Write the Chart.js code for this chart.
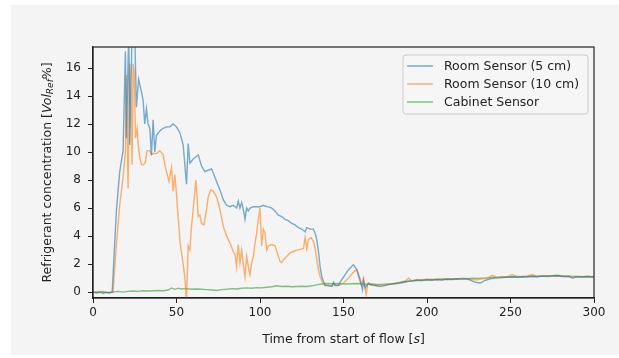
<!DOCTYPE html>
<html>
<head>
<meta charset="utf-8">
<script src="https://cdn.jsdelivr.net/npm/chart.js@4/dist/chart.umd.min.js"></script>
<style>
  html, body { margin: 0; padding: 0; background: #ffffff; }
  #wrap { width: 619px; height: 358px; }
</style>
</head>
<body>
<div id="wrap"><canvas id="chart" width="619" height="358"></canvas></div>
<script>
// values
const seriesLabels = ['Room Sensor (5 cm)', 'Room Sensor (10 cm)', 'Cabinet Sensor'];

const blueTime = [0,2,4,6,8,10,11.5,14,16,18,19.4,20,21.4,22,23.4,24,25,26,27.3,29,30,31,32,33,34,35,36,37,38,40,42,44,46,48,50,52,54,56,57,58,60,62,63,65,67,69,71,72,74,76,78,80,82,84,86,87,88,89,90,91,92,93,94,96,98,100,102,104,106,107,109,111,113,115,117,119,121,123,125,127,128,130,132,133,134,135,136,137,138,139,141,143,144,145,147,149,151,153,155,156,158,160,161.4,162,163,165,167,170,172,174,176,178,181,184,187,189,192,194,197,200,203,206,209,212,215,218,221,224,227,229,232,235,238,241,244,247,251,254,257,260,263,266,269,272,275,279,282,285,287,290,293,296,300];
const blueVals = [0.0,-0.05,0.05,-0.1,0.0,-0.05,0.0,5.8,8.6,10.1,17.2,11.0,18.5,10.5,18.5,17.8,18.5,13.2,15.2,14.3,13.7,12.0,13.1,12.0,11.7,9.8,12.3,10.0,11.2,11.5,11.7,11.8,11.8,12.0,11.8,11.4,10.5,7.7,10.6,9.2,9.5,9.7,9.8,9.0,8.6,8.7,8.8,8.5,7.9,7.3,6.6,6.2,6.1,6.2,6.0,6.5,6.0,6.4,5.9,5.2,6.0,5.8,6.0,6.1,6.1,6.1,6.2,6.1,6.05,6.0,5.8,5.5,5.4,5.2,5.1,4.9,4.8,4.6,4.5,4.3,4.6,4.5,4.5,4.2,3.75,2.9,1.8,1.1,0.77,0.5,0.45,0.4,0.7,0.45,0.5,0.9,1.25,1.6,1.85,1.95,1.6,0.9,0.17,0.8,0.3,0.65,0.5,0.45,0.4,0.45,0.5,0.55,0.6,0.65,0.72,0.77,0.8,0.85,0.82,0.88,0.85,0.9,0.87,0.92,0.9,0.95,0.93,0.95,0.8,0.7,0.65,0.85,0.95,1.0,1.02,1.05,1.08,1.05,1.1,1.08,1.12,1.1,1.15,1.12,1.15,1.17,1.12,1.1,1.0,1.1,1.08,1.12,1.08];

const orangeTime = [0,2,4,6,8,10,12,14,16,18,19.4,20,21,22,22.6,23.4,24,24.6,25.4,26.4,27,28,29,30.4,31.4,32.4,34,35,36,38,40,42,43,44,45.5,47,48,49,50,51,52.3,54,55,56,57,58,59,60,61.6,63,64,65,66.4,68,69,70.5,72,74,76,78,80,82,84,85,86,87,88,89,90,91,92,93,94,95,96,97,98,99,100,101,102,103,104,105,107,109,111,112,113,114,116,118,120,122,124,126,127,128,129,130.6,132,133,134,135,136,137.5,139,141,143,145,147,150,153,155,157,158,159,160.7,162,163.6,164.5,166,168,170,172,175,178,181,184,187,189,191,194,197,200,203,206,209,212,215,218,221,224,227,230,233,236,239,242,245,248,251,254,257,260,263,266,269,272,275,278,281,284,287,290,293,296,300];
const orangeVals = [0.0,0.05,-0.05,0.0,-0.05,0.0,0.0,3.4,6.2,8.2,10.1,15.5,7.4,16.3,14.1,9.1,16.3,15.8,11.0,11.7,10.6,9.6,9.1,9.1,9.3,10.1,10.1,9.8,9.9,9.9,10.1,9.8,9.1,8.6,7.9,8.9,7.2,8.4,7.0,5.3,3.4,2.0,1.0,-0.6,3.3,3.0,4.7,5.9,8.0,5.4,5.5,4.9,4.8,5.9,6.8,7.3,7.2,6.8,5.9,4.7,4.0,3.5,2.9,2.7,1.8,3.4,2.1,3.0,2.0,1.1,2.55,1.85,1.25,2.1,2.5,3.5,4.2,5.2,6.0,3.3,4.5,4.2,3.0,3.3,3.4,3.3,2.55,2.2,2.1,2.3,2.55,2.8,2.9,3.0,3.05,3.1,3.9,3.1,3.75,3.9,3.6,3.15,2.3,1.6,1.1,0.65,0.45,0.5,0.45,0.55,0.45,0.65,1.0,1.3,1.55,1.6,1.1,0.5,1.0,-0.2,0.6,0.5,0.55,0.45,0.5,0.5,0.6,0.62,0.7,0.8,1.0,0.8,0.9,0.85,0.9,0.92,0.88,0.95,0.9,0.95,0.92,0.98,0.95,0.9,0.88,0.95,1.0,1.2,1.05,1.1,1.08,1.25,1.1,1.12,1.15,1.25,1.12,1.15,1.18,1.15,1.15,1.12,1.15,1.1,1.12,1.1,1.12,1.08];

const greenTime = [0,3,6,9,12,15,18,21,24,27,30,33,36,39,42,45,47,49,51,53,56,59,62,65,68,71,74,77,80,83,86,89,92,95,98,101,104,107,110,113,116,119,122,125,128,131,134,137,140,143,146,149,152,155,158,161,164,167,170,173,176,179,182,185,188,191,194,197,200,203,206,209,212,215,218,221,224,227,230,233,236,239,242,245,248,251,254,257,260,263,266,269,272,275,278,281,284,287,290,293,296,300];
const greenVals = [0.0,-0.05,0.05,-0.05,0.0,0.05,0.0,0.05,0.08,0.05,0.1,0.08,0.1,0.12,0.1,0.15,0.3,0.2,0.28,0.22,0.25,0.2,0.22,0.2,0.18,0.15,0.12,0.18,0.2,0.25,0.22,0.28,0.3,0.28,0.32,0.3,0.35,0.38,0.45,0.4,0.42,0.38,0.4,0.42,0.4,0.45,0.52,0.58,0.62,0.6,0.62,0.6,0.58,0.6,0.62,0.6,0.55,0.58,0.55,0.55,0.58,0.6,0.65,0.72,0.78,0.82,0.85,0.88,0.9,0.88,0.92,0.9,0.95,0.92,0.95,0.98,0.96,1.0,0.98,1.0,1.02,1.05,1.05,1.08,1.1,1.1,1.12,1.1,1.12,1.15,1.12,1.15,1.15,1.18,1.2,1.15,1.15,1.12,1.12,1.1,1.12,1.1];

const xTicks = [0, 50, 100, 150, 200, 250, 300];
const yTicks = [0, 2, 4, 6, 8, 10, 12, 14, 16];

const FONT = "'DejaVu Sans', sans-serif";
const INK = '#222222';

function points(ts, vs) {
    return ts.map((t, i) => ({ x: t, y: vs[i] }));
}

// grey figure background with the thin white margin of the original
const backdrop = {
    id: 'backdrop',
    beforeDraw(chart) {
        const ctx = chart.ctx;
        ctx.save();
        ctx.fillStyle = '#ffffff';
        ctx.fillRect(0, 0, chart.width, chart.height);
        ctx.fillStyle = '#f4f4f4';
        ctx.fillRect(11, 5, chart.width - 11, 350);
        ctx.restore();
    }
};

// frame, axis titles and legend box in the matplotlib look
const decor = {
    id: 'decor',
    afterDraw(chart) {
        const ctx = chart.ctx;
        const a = chart.chartArea;
        ctx.save();
        ctx.strokeStyle = INK;
        ctx.lineWidth = 1.2;
        ctx.strokeRect(a.left, a.top, a.right - a.left, a.bottom - a.top);

        // x title
        ctx.fillStyle = INK;
        ctx.textBaseline = 'middle';
        let parts = [
            { t: 'Time from start of flow [', f: '12.5px ' + FONT },
            { t: 's', f: 'italic 12.5px ' + FONT },
            { t: ']', f: '12.5px ' + FONT }
        ];
        let w = 0;
        parts.forEach(p => { ctx.font = p.f; w += ctx.measureText(p.t).width; });
        let x = (a.left + a.right) / 2 - w / 2;
        parts.forEach(p => {
            ctx.font = p.f;
            ctx.textAlign = 'left';
            ctx.fillText(p.t, x, 340);
            x += ctx.measureText(p.t).width;
        });

        // y title, rotated, with subscript
        ctx.save();
        ctx.translate(48, (a.top + a.bottom) / 2);
        ctx.rotate(-Math.PI / 2);
        parts = [
            { t: 'Refrigerant concentration [', f: '12.5px ' + FONT, dy: 0 },
            { t: 'Vol', f: 'italic 12.5px ' + FONT, dy: 0 },
            { t: 'Ref', f: 'italic 9px ' + FONT, dy: 3 },
            { t: '%]', f: '12.5px ' + FONT, dy: 0 }
        ];
        w = 0;
        parts.forEach(p => { ctx.font = p.f; w += ctx.measureText(p.t).width; });
        x = -w / 2;
        parts.forEach(p => {
            ctx.font = p.f;
            ctx.textAlign = 'left';
            ctx.fillText(p.t, x, p.dy);
            x += ctx.measureText(p.t).width;
        });
        ctx.restore();

        // legend
        ctx.beginPath();
        ctx.roundRect(403, 55, 185, 59, 3);
        ctx.fillStyle = 'rgba(246,246,246,0.8)';
        ctx.fill();
        ctx.strokeStyle = '#cccccc';
        ctx.lineWidth = 1;
        ctx.stroke();
        chart.data.datasets.forEach((ds, i) => {
            const yy = 66 + i * 18;
            ctx.beginPath();
            ctx.moveTo(407, yy);
            ctx.lineTo(433, yy);
            ctx.strokeStyle = ds.borderColor;
            ctx.lineWidth = 1.5;
            ctx.stroke();
            ctx.fillStyle = INK;
            ctx.font = '12.5px ' + FONT;
            ctx.textAlign = 'left';
            ctx.textBaseline = 'middle';
            ctx.fillText(ds.label, 444, yy + 1);
        });
        ctx.restore();
    }
};

let datasets = [
    {
        label: seriesLabels[0],
        data: points(blueTime, blueVals),
        borderColor: 'rgba(31,119,180,0.6)',
        borderWidth: 1.4,
        pointRadius: 0,
        tension: 0
    },
    {
        label: seriesLabels[1],
        data: points(orangeTime, orangeVals),
        borderColor: 'rgba(255,127,14,0.6)',
        borderWidth: 1.4,
        pointRadius: 0,
        tension: 0
    },
    {
        label: seriesLabels[2],
        data: points(greenTime, greenVals),
        borderColor: 'rgba(44,160,44,0.6)',
        borderWidth: 1.4,
        pointRadius: 0,
        tension: 0
    }
];

let configAxisX = {
    type: 'linear',
    min: 0,
    max: 300,
    afterBuildTicks: scale => { scale.ticks = xTicks.map(v => ({ value: v })); },
    afterFit: scale => { scale.height = 60; },
    ticks: {
        color: INK,
        padding: 3,
        maxRotation: 0,
        font: { family: FONT, size: 12 }
    },
    grid: {
        drawOnChartArea: false,
        tickLength: 5,
        tickColor: INK,
        tickWidth: 1
    },
    border: { display: true, color: INK, width: 1.2 }
};

let configAxisY = {
    type: 'linear',
    min: -0.42,
    max: 17.5,
    afterBuildTicks: scale => { scale.ticks = yTicks.map(v => ({ value: v })); },
    afterFit: scale => { scale.width = 93; },
    ticks: {
        color: INK,
        padding: 7,
        font: { family: FONT, size: 12 }
    },
    grid: {
        drawOnChartArea: false,
        tickLength: 5,
        tickColor: INK,
        tickWidth: 1
    },
    border: { display: true, color: INK, width: 1.2 }
};

new Chart(document.getElementById('chart'), {
    type: 'line',
    data: { datasets: datasets },
    options: {
        responsive: false,
        animation: false,
        layout: { padding: { left: 0, top: 47, right: 25, bottom: 0 } },
        scales: { x: configAxisX, y: configAxisY },
        plugins: {
            legend: { display: false },
            tooltip: { enabled: false }
        }
    },
    plugins: [backdrop, decor]
});
</script>
</body>
</html>
